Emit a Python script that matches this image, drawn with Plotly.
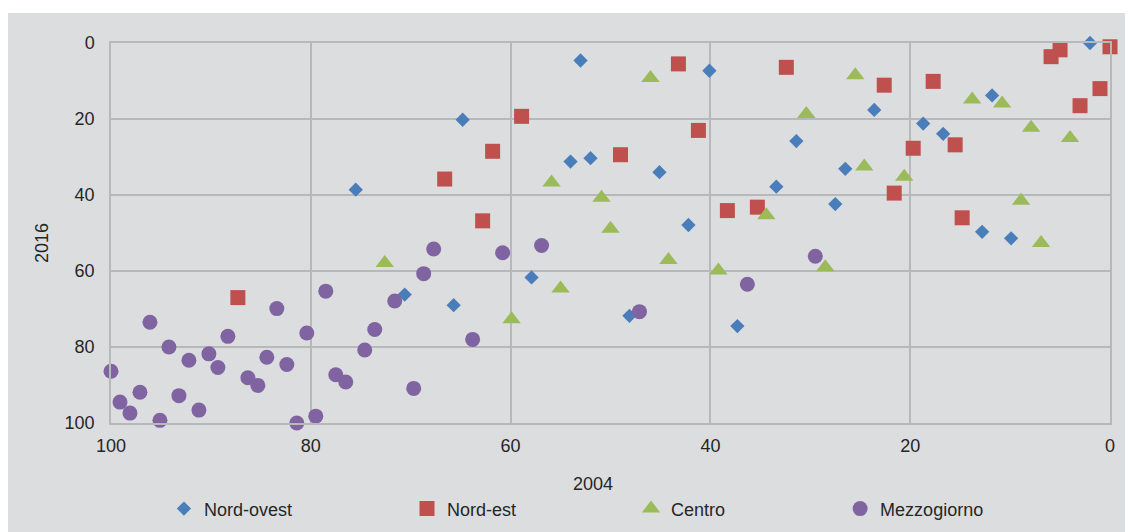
import plotly.graph_objects as go

# ---- data (rank 2004 on x, rank 2016 on y) ----
nordovest_2004 = [75.5, 70.6, 53.0, 64.8, 54.0, 52.0, 57.9, 65.7, 40.1, 45.1, 33.4, 42.2,
                  48.1, 37.3, 23.6, 18.7, 16.7, 31.4, 26.5, 27.5, 2.0, 11.8, 12.8, 9.9]
nordovest_2016 = [38.6, 66.2, 4.6, 20.2, 31.2, 30.3, 61.7, 69.0, 7.3, 34.0, 37.8, 47.9,
                  71.8, 74.5, 17.6, 21.2, 23.9, 25.8, 33.1, 42.4, 0.0, 13.8, 49.7, 51.4]

nordest_2004 = [87.3, 66.6, 62.8, 61.8, 58.9, 49.0, 43.2, 41.2, 38.3, 35.3, 32.4, 22.6,
                17.7, 19.7, 21.6, 15.5, 14.8, 5.0, 5.9, 0.0, 1.0, 3.0]
nordest_2016 = [67.0, 35.8, 46.8, 28.5, 19.3, 29.4, 5.5, 23.0, 44.1, 43.2, 6.4, 11.1,
                10.1, 27.7, 39.5, 26.8, 46.0, 1.8, 3.6, 1.0, 12.0, 16.5]

centro_2004 = [72.6, 55.9, 50.9, 50.0, 55.0, 59.9, 46.0, 44.2, 39.2, 34.4, 25.5, 30.4,
               24.6, 20.6, 28.5, 13.8, 10.8, 7.9, 4.0, 8.9, 6.9]
centro_2016 = [57.9, 36.7, 40.7, 48.9, 64.6, 72.7, 9.2, 57.1, 59.9, 45.3, 8.5, 18.7,
               32.5, 35.2, 59.0, 14.9, 15.9, 22.3, 25.0, 41.5, 52.6]

mezzogiorno_2004 = [100.0, 96.1, 94.2, 92.2, 90.2, 89.3, 88.3, 86.3, 85.3, 84.4, 83.4, 99.1,
                    98.1, 97.1, 93.2, 95.1, 91.2, 78.5, 80.4, 82.4, 77.5, 76.5, 74.6, 73.6,
                    71.6, 68.7, 67.7, 69.7, 81.4, 79.5, 60.8, 56.9, 63.8, 47.1, 36.3, 29.5]
mezzogiorno_2016 = [86.4, 73.5, 80.0, 83.5, 81.8, 85.4, 77.2, 88.1, 90.1, 82.7, 69.9, 94.5,
                    97.4, 91.9, 92.8, 99.3, 96.6, 65.3, 76.3, 84.6, 87.3, 89.2, 80.8, 75.4,
                    67.9, 60.7, 54.2, 90.9, 100.0, 98.2, 55.2, 53.3, 78.0, 70.7, 63.5, 56.1]

series_names = ["Nord-ovest", "Nord-est", "Centro", "Mezzogiorno"]
tick_vals = [0, 20, 40, 60, 80, 100]
x_title = "2004"
y_title = "2016"

# ---- styling ----
FONT = "Liberation Sans, Arial, sans-serif"
TXT = "#262626"
BG = "#DCDDDF"
GRID = "#B7B8BA"
PAD = "\u00a0" * 22

styles = [
    dict(symbol="diamond", color="#4A7EBB", size=11),
    dict(symbol="square", color="#C0504D", size=15),
    dict(symbol="triangle-up", color="#9BBB59", size=16),
    dict(symbol="circle", color="#8064A2", size=15),
]
xs = [nordovest_2004, nordest_2004, centro_2004, mezzogiorno_2004]
ys = [nordovest_2016, nordest_2016, centro_2016, mezzogiorno_2016]

fig = go.Figure()
for i, name in enumerate(series_names):
    st = styles[i]
    fig.add_trace(go.Scatter(
        x=xs[i], y=ys[i], mode="markers",
        name=name + (PAD if i < len(series_names) - 1 else ""),
        cliponaxis=False,
        marker=dict(symbol=st["symbol"], color=st["color"], size=st["size"],
                    line=dict(width=0)),
    ))

axis_common = dict(
    tickvals=tick_vals, showgrid=True, gridcolor=GRID, gridwidth=1.5,
    zeroline=False, showline=True, linecolor=GRID, linewidth=1.5, mirror=True,
    ticks="", tickfont=dict(family=FONT, size=18, color=TXT),
)

fig.update_layout(
    width=1125, height=524,
    margin=dict(l=103, r=23, t=35, b=109, autoexpand=False),
    paper_bgcolor=BG, plot_bgcolor=BG,
    font=dict(family=FONT, size=18, color=TXT),
    xaxis=dict(range=[100, 0], ticklabelstandoff=6, **axis_common),
    yaxis=dict(range=[100, 0], ticklabelstandoff=11, **axis_common),
    showlegend=True,
    legend=dict(orientation="h", x=0.053, xanchor="left", y=-0.226, yanchor="middle",
                bgcolor="rgba(0,0,0,0)", font=dict(family=FONT, size=18, color=TXT),
                itemclick=False),
    annotations=[
        dict(text=x_title, xref="paper", yref="paper", x=0.4825, y=-0.1605,
             xanchor="center", yanchor="middle", showarrow=False,
             font=dict(family=FONT, size=18, color=TXT)),
        dict(text=y_title, xref="paper", yref="paper", x=-0.069, y=0.474,
             xanchor="center", yanchor="middle", textangle=-90, showarrow=False,
             font=dict(family=FONT, size=18, color=TXT)),
    ],
    shapes=[
        dict(type="rect", xref="paper", yref="paper", x0=-0.2, x1=1.2,
             y0=(415 - 5) / 380, y1=1.3, fillcolor="white", line=dict(width=0), layer="below"),
    ],
)

fig.write_html("out.html")
